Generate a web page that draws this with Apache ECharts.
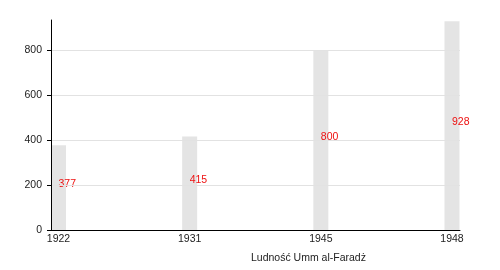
<!DOCTYPE html>
<html>
<head>
<meta charset="utf-8">
<script src="https://cdn.jsdelivr.net/npm/echarts@6/dist/echarts.min.js"></script>
<style>html,body{margin:0;padding:0;background:#fff}#c{width:500px;height:270px}</style>
</head>
<body>
<div id="c"></div>
<script>
var categories = ['1922', '1931', '1945', '1948'];
var population = [377, 415, 800, 928];
var yTicks = [0, 200, 400, 600, 800];
var axisTitle = 'Ludność Umm al-Faradż';

var chart = echarts.init(document.getElementById('c'), null, {renderer: 'canvas'});
var idx = categories.map(function (c, i) { return i; });
var font = 'Liberation Sans, Arial, sans-serif';
chart.setOption({
  animation: false,
  grid: {left: 51, right: 40, top: 20, bottom: 40, containLabel: false},
  xAxis: {
    type: 'value', min: -0.057, max: 3.061, z: 5,
    axisLine: {show: true, onZero: false, lineStyle: {color: '#000', width: 1}},
    axisTick: {show: false, customValues: idx},
    splitLine: {show: false},
    axisLabel: {customValues: idx, color: '#222', fontSize: 10.5, fontFamily: font, margin: 4,
      formatter: function (v) { return categories[Math.round(v)]; }}
  },
  yAxis: {
    type: 'value', min: 0, max: 933, z: 5,
    axisLine: {show: true, onZero: false, lineStyle: {color: '#000', width: 1}},
    axisTick: {show: true, length: 4, customValues: yTicks, lineStyle: {color: '#000'}},
    splitLine: {show: true, lineStyle: {color: '#e2e2e2', width: 1}},
    axisLabel: {customValues: yTicks, color: '#222', fontSize: 10.5, fontFamily: font, margin: 9}
  },
  graphic: [{type: 'text', left: 251, top: 253, style: {text: axisTitle, fill: '#222', font: '10.5px ' + font}}],
  series: [{
    type: 'bar', barWidth: 15, z: 2,
    itemStyle: {color: '#e4e4e4'},
    data: population.map(function (v, i) { return [idx[i], v]; }),
    label: {show: true, position: ['50%', '50%'], align: 'left', verticalAlign: 'middle', offset: [0, -3],
      color: '#ee1111', fontSize: 10.5, fontFamily: font}
  }]
});
</script>
</body>
</html>
